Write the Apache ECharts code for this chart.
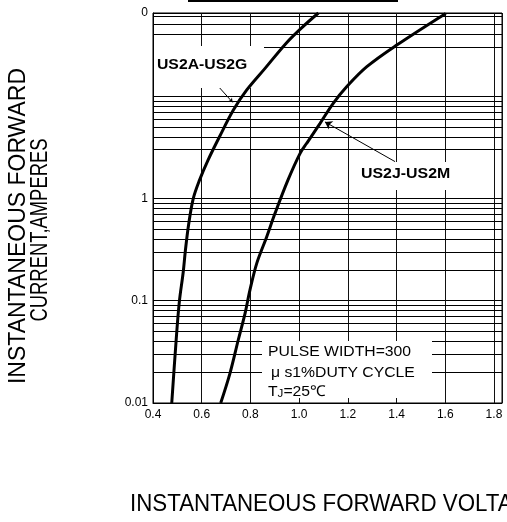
<!DOCTYPE html>
<html><head><meta charset="utf-8">
<script src="https://cdn.jsdelivr.net/npm/echarts/dist/echarts.min.js"></script>
<style>html,body{margin:0;padding:0;background:#fff;overflow:hidden}#c{width:507px;height:522px}</style>
</head><body><div id="c"></div>
<script>
// US2A-US2G curve
const usAGVolts = [0.477, 0.495, 0.508, 0.524, 0.533, 0.546, 0.565, 0.591, 0.626, 0.673, 0.730, 0.785, 0.860, 0.946, 1.008, 1.079];
const usAGAmps  = [0.01, 0.041, 0.097, 0.19, 0.31, 0.55, 0.99, 1.51, 2.37, 4.01, 7.31, 11.5, 18.7, 32.8, 46.0, 65];
// US2J-US2M curve
const usJMVolts = [0.678, 0.716, 0.750, 0.778, 0.798, 0.826, 0.867, 0.901, 0.954, 1.004, 1.031, 1.086, 1.140, 1.196, 1.278, 1.401, 1.602];
const usJMAmps  = [0.01, 0.0195, 0.0413, 0.0753, 0.127, 0.232, 0.422, 0.715, 1.51, 2.76, 3.46, 5.42, 8.51, 12.4, 19.4, 31.6, 64.4];
// grid lines / ticks
const minorGridAmps = [0.02,0.03,0.04,0.05,0.06,0.07,0.08,0.09,
                       0.2,0.3,0.4,0.5,0.6,0.7,0.8,0.9,
                       3,4,5,6,7,8,9,
                       30,40,50,60];
const yTickValues = [0.01, 0.1, 1, 10, 65];
const yTickLabels = ['0.01', '0.1', '1', '', '0'];
const xMin = 0.4, xMax = 1.833, xStep = 0.2;

const FONT = "'Liberation Sans', Arial, sans-serif";
const pairs = (xs, ys) => xs.map((x, i) => [x, ys[i]]);

const chart = echarts.init(document.getElementById('c'), null, {renderer: 'canvas'});
chart.setOption({
  animation: false,
  backgroundColor: '#fff',
  grid: {left: 153, right: 5, top: 13, bottom: 119, show: true, borderColor: '#000', borderWidth: 1, containLabel: false},
  xAxis: {
    type: 'value', min: xMin, max: xMax, interval: xStep,
    axisLine: {show: true, lineStyle: {color: '#000', width: 1}},
    axisTick: {show: false},
    axisLabel: {color: '#000', fontSize: 12, fontFamily: FONT, margin: 6,
      formatter: v => { const k = (v - xMin) / xStep; return Math.abs(k - Math.round(k)) < 1e-6 ? v.toFixed(1) : ''; }},
    splitLine: {show: true, lineStyle: {color: '#111', width: 1}}
  },
  yAxis: {
    type: 'log', logBase: 10, min: 0.01, max: 65,
    axisLine: {show: true, lineStyle: {color: '#000', width: 1}},
    axisTick: {show: false},
    axisLabel: {color: '#000', fontSize: 12, fontFamily: FONT, margin: 5,
      formatter: v => {
        let best = 0, bd = Infinity;
        yTickValues.forEach((t, i) => { const d = Math.abs(Math.log10(v) - Math.log10(t)); if (d < bd) { bd = d; best = i; } });
        return bd < 0.01 ? yTickLabels[best] : '';
      }},
    splitLine: {show: true, lineStyle: {color: '#000', width: 1}}
  },
  series: [
    {
      type: 'line', data: [], z: 1, silent: true,
      markLine: {
        silent: true, symbol: 'none', animation: false,
        label: {show: false},
        lineStyle: {color: '#000', width: 1, type: 'solid'},
        data: minorGridAmps.map(v => ({yAxis: v}))
      }
    },
    {
      name: 'US2A-US2G', type: 'line', smooth: 0.35, showSymbol: false, z: 100,
      lineStyle: {color: '#000', width: 3}, clip: true,
      data: pairs(usAGVolts, usAGAmps),
      markLine: {
        silent: true, symbol: ['none', 'arrow'], symbolSize: 4, animation: false,
        label: {show: false},
        lineStyle: {color: '#000', width: 1, type: 'solid'},
        data: [[{coord: [0.626, 16.1]}, {coord: [0.727, 8.7]}]]
      }
    },
    {
      name: 'US2J-US2M', type: 'line', smooth: 0.35, showSymbol: false, z: 100,
      lineStyle: {color: '#000', width: 3}, clip: true,
      data: pairs(usJMVolts, usJMAmps),
      markLine: {
        silent: true, symbol: ['none', 'arrow'], symbolSize: 7, animation: false,
        label: {show: false},
        lineStyle: {color: '#000', width: 1, type: 'solid'},
        data: [[{coord: [1.394, 2.29]}, {coord: [1.106, 5.6]}]]
      }
    }
  ],
  graphic: [
    {type: 'line', z: 10, shape: {x1: 188, y1: 1, x2: 398, y2: 1}, style: {stroke: '#000', lineWidth: 2}},
    {type: 'rect', z: 10, shape: {x: 154, y: 46, width: 110, height: 42}, style: {fill: '#fff'}},
    {type: 'rect', z: 10, shape: {x: 357, y: 162, width: 100, height: 28}, style: {fill: '#fff'}},
    {type: 'rect', z: 10, shape: {x: 262, y: 341, width: 170, height: 57}, style: {fill: '#fff'}},
    {type: 'text', z: 20, x: 157, y: 65, scaleX: 1.05, style: {text: 'US2A-US2G', font: 'bold 15px ' + FONT, fill: '#000', textAlign: 'left', textVerticalAlign: 'middle'}},
    {type: 'text', z: 20, x: 361, y: 174, scaleX: 1.06, style: {text: 'US2J-US2M', font: 'bold 15px ' + FONT, fill: '#000', textAlign: 'left', textVerticalAlign: 'middle'}},
    {type: 'text', z: 20, x: 268, y: 352, scaleX: 1.05, style: {text: 'PULSE WIDTH=300', font: '15px ' + FONT, fill: '#000', textAlign: 'left', textVerticalAlign: 'middle'}},
    {type: 'text', z: 20, x: 271, y: 373, scaleX: 1.05, style: {text: 'μ s1%DUTY CYCLE', font: '15px ' + FONT, fill: '#000', textAlign: 'left', textVerticalAlign: 'middle'}},
    {type: 'text', z: 20, x: 268, y: 392, scaleX: 1.05, style: {
      text: '{a|T}{b|J}{a|=25℃}', textAlign: 'left', textVerticalAlign: 'middle',
      rich: {a: {font: '15px ' + FONT, fill: '#000'}, b: {font: '11px ' + FONT, fill: '#000', padding: [3, 0, 0, 0]}}}},
    {type: 'text', z: 20, x: 19, y: 226, rotation: Math.PI / 2, style: {
      text: 'INSTANTANEOUS FORWARD', font: '23px ' + FONT, fill: '#000',
      textAlign: 'center', textVerticalAlign: 'middle'}},
    {type: 'text', z: 20, x: 41, y: 230, rotation: Math.PI / 2, scaleX: 0.8, style: {
      text: 'CURRENT,AMPERES', font: '23px ' + FONT, fill: '#000',
      textAlign: 'center', textVerticalAlign: 'middle'}},
    {type: 'text', z: 20, x: 130, y: 505, scaleX: 0.97, style: {text: 'INSTANTANEOUS FORWARD VOLTAGE,VOLTS', font: '23px ' + FONT, fill: '#000', textAlign: 'left', textVerticalAlign: 'middle'}}
  ]
});
</script>
</body></html>
